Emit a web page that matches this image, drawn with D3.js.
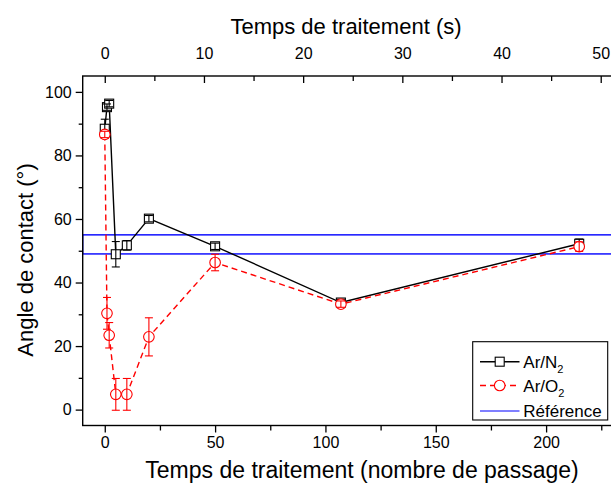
<!DOCTYPE html>
<html>
<head>
<meta charset="utf-8">
<script src="https://cdn.jsdelivr.net/npm/d3@7"></script>
<style>
  html, body { margin: 0; padding: 0; background: #fff; }
  svg { display: block; font-family: "Liberation Sans", Arial, sans-serif; }
</style>
</head>
<body>
<svg id="chart" width="611" height="487"></svg>
<script>
// ---- data ----
const passes = [0, 1, 2, 5, 10, 20, 50, 107, 215];
const arN2 = [88.4, 95.2, 96.3, 48.9, 51.7, 60.1, 51.4, 33.7, 52.2];
const arN2Err = [3, 1, 1, 4, 1.5, 1, 1, 1, 1.5];
const arO2 = [86.6, 30.3, 23.4, 4.8, 4.8, 22.9, 46.3, 33.2, 51.3];
const arO2Err = [1, 5, 4, 5, 5, 6, 2.6, 1, 1.5];
const referenceBand = [49, 55];
const bottomTicks = [0, 50, 100, 150, 200];
const topTicks = [0, 10, 20, 30, 40, 50];
const yTicks = [0, 20, 40, 60, 80, 100];
const secondsPerPass = 1 / 4.495;

// ---- layout ----
const svg = d3.select("#chart");
const L = 82.7, R = 612.3, T = 76, B = 425.5;

const x = d3.scaleLinear().domain([-10, 230]).range([L, R]);
const xTop = d3.scaleLinear().domain([-10 * secondsPerPass, 230 * secondsPerPass]).range([L, R]);
const y = d3.scaleLinear().domain([-5, 105]).range([B, T]);

// reference band (drawn as a rectangle outline)
svg.append("rect")
  .attr("x", L).attr("y", y(referenceBand[1]))
  .attr("width", R - L).attr("height", y(referenceBand[0]) - y(referenceBand[1]))
  .attr("fill", "none").attr("stroke", "#0000ff").attr("stroke-width", 1.4);

// axes
const fmt = d3.format("d");
const gB = svg.append("g").attr("transform", `translate(0,${B})`)
  .call(d3.axisBottom(x).tickValues(bottomTicks).tickSize(7).tickPadding(4).tickFormat(fmt));
svg.append("g").attr("transform", `translate(0,${B})`)
  .call(d3.axisBottom(x).tickValues(d3.range(25, 230, 50)).tickSize(5).tickFormat(""));
const gT = svg.append("g").attr("transform", `translate(0,${T})`)
  .call(d3.axisTop(xTop).tickValues(topTicks).tickSizeInner(-7).tickSizeOuter(0).tickPadding(17).tickFormat(fmt));
svg.append("g").attr("transform", `translate(0,${T})`)
  .call(d3.axisTop(xTop).tickValues(d3.range(5, 50, 10)).tickSizeInner(-5).tickSizeOuter(0).tickFormat(""));
const gL = svg.append("g").attr("transform", `translate(${L},0)`)
  .call(d3.axisLeft(y).tickValues(yTicks).tickSize(7).tickPadding(4).tickFormat(fmt));
svg.append("g").attr("transform", `translate(${L},0)`)
  .call(d3.axisLeft(y).tickValues(d3.range(10, 105, 20)).tickSize(4).tickFormat(""));

svg.selectAll(".domain").remove();
svg.selectAll(".tick line").attr("stroke", "#000").attr("stroke-width", 1.3);
svg.selectAll(".tick text").attr("font-size", 16).attr("fill", "#000")
  .attr("font-family", "Liberation Sans, Arial, sans-serif");

// frame
svg.append("rect").attr("x", L).attr("y", T).attr("width", R - L).attr("height", B - T)
  .attr("fill", "none").attr("stroke", "#000").attr("stroke-width", 1.4);

// series
const series = [
  { vals: arN2, err: arN2Err, color: "#000", dash: null, marker: "square" },
  { vals: arO2, err: arO2Err, color: "#ff0000", dash: "6,4", marker: "circle" }
];

const line = d3.line().x(d => x(d[0])).y(d => y(d[1]));

series.forEach(s => {
  const pts = passes.map((p, i) => [p, s.vals[i], s.err[i]]);
  const g = svg.append("g");
  g.append("path").datum(pts).attr("d", line)
    .attr("fill", "none").attr("stroke", s.color).attr("stroke-width", 1.4)
    .attr("stroke-dasharray", s.dash);
  // markers
  if (s.marker === "square") {
    g.selectAll("rect.m").data(pts).join("rect").attr("class", "m")
      .attr("x", d => x(d[0]) - 4.5).attr("y", d => y(d[1]) - 4.5)
      .attr("width", 9).attr("height", 9)
      .attr("fill", "#fff").attr("stroke", s.color).attr("stroke-width", 1.1);
  } else {
    g.selectAll("circle.m").data(pts).join("circle").attr("class", "m")
      .attr("cx", d => x(d[0])).attr("cy", d => y(d[1])).attr("r", 5.3)
      .attr("fill", "#fff").attr("stroke", s.color).attr("stroke-width", 1.1);
  }
  // error bars on top
  const eb = g.selectAll("g.eb").data(pts).join("g").attr("class", "eb")
    .attr("stroke", s.color).attr("stroke-width", 1.1);
  eb.append("line").attr("x1", d => x(d[0])).attr("x2", d => x(d[0]))
    .attr("y1", d => y(d[1] + d[2])).attr("y2", d => y(d[1] - d[2]));
  eb.append("line").attr("x1", d => x(d[0]) - 4).attr("x2", d => x(d[0]) + 4)
    .attr("y1", d => y(d[1] + d[2])).attr("y2", d => y(d[1] + d[2]));
  eb.append("line").attr("x1", d => x(d[0]) - 4).attr("x2", d => x(d[0]) + 4)
    .attr("y1", d => y(d[1] - d[2])).attr("y2", d => y(d[1] - d[2]));
});

// axis titles
svg.append("text").attr("x", 346).attr("y", 34).attr("text-anchor", "middle")
  .attr("font-size", 22).text("Temps de traitement (s)");
svg.append("text").attr("x", 362).attr("y", 478).attr("text-anchor", "middle")
  .attr("font-size", 23).text("Temps de traitement (nombre de passage)");
svg.append("text").attr("transform", "translate(33,260) rotate(-90)").attr("text-anchor", "middle")
  .attr("font-size", 22).text("Angle de contact (°)");

// legend
const lg = svg.append("g");
lg.append("rect").attr("x", 472.7).attr("y", 341.7).attr("width", 135).attr("height", 78.3)
  .attr("fill", "#fff").attr("stroke", "#000").attr("stroke-width", 1.1);
const legendItems = [
  { name: "Ar/N", sub: "2", color: "#000", dash: null, marker: "square", yy: 361.7 },
  { name: "Ar/O", sub: "2", color: "#ff0000", dash: "6,4", marker: "circle", yy: 385.5 },
  { name: "Référence", sub: null, color: "#0000ff", dash: null, marker: null, yy: 411 }
];
legendItems.forEach(it => {
  lg.append("line").attr("x1", 480).attr("x2", 519.5).attr("y1", it.yy).attr("y2", it.yy)
    .attr("stroke", it.color).attr("stroke-width", it.marker ? 1.4 : 1.1).attr("stroke-dasharray", it.dash);
  if (it.marker === "square") {
    lg.append("rect").attr("x", 499.7 - 4.5).attr("y", it.yy - 4.5).attr("width", 9).attr("height", 9)
      .attr("fill", "#fff").attr("stroke", it.color).attr("stroke-width", 1.1);
  } else if (it.marker === "circle") {
    lg.append("circle").attr("cx", 499.7).attr("cy", it.yy).attr("r", 5.3)
      .attr("fill", "#fff").attr("stroke", it.color).attr("stroke-width", 1.1);
  }
  const t = lg.append("text").attr("x", 523.3).attr("y", it.yy + 6).attr("font-size", 17).text(it.name);
  if (it.sub) t.append("tspan").attr("font-size", 11).attr("dy", 5).text(it.sub);
});
</script>
</body>
</html>
